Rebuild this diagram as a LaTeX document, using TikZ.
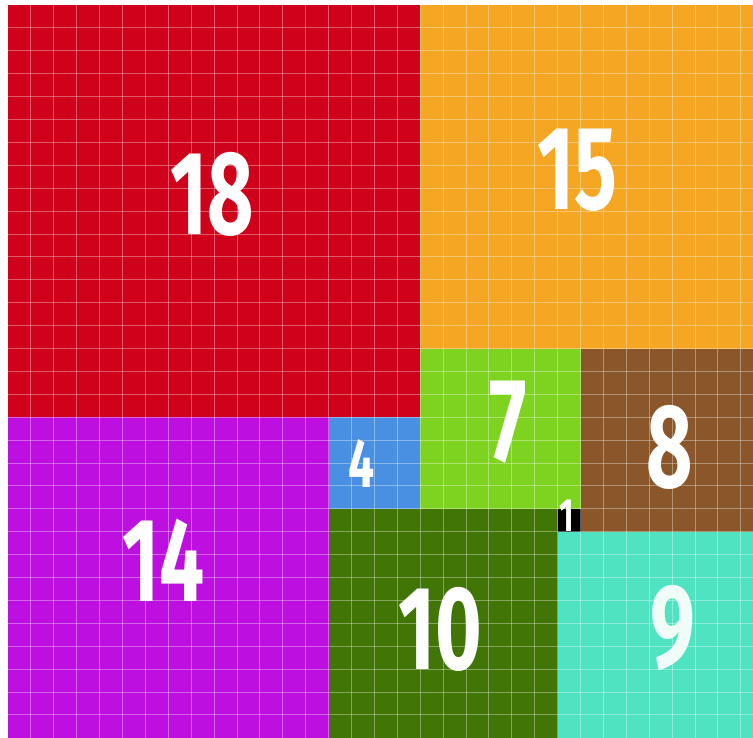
\documentclass[tikz,border=0pt]{standalone}
\usepackage{fontspec}
\setmainfont{Fira Sans}
\definecolor{cred}{RGB}{208,2,27}
\definecolor{corange}{RGB}{245,166,35}
\definecolor{cgreen}{RGB}{126,211,33}
\definecolor{cbrown}{RGB}{139,87,42}
\definecolor{cblue}{RGB}{74,144,226}
\definecolor{cmagenta}{RGB}{189,16,224}
\definecolor{cdkgreen}{RGB}{65,117,5}
\definecolor{cteal}{RGB}{80,227,194}
\definecolor{cmint}{RGB}{240,252,248}
\tikzset{
  sq/.style={inner sep=0pt, outer sep=0pt, draw=none, anchor=north west},
  big/.style={inner sep=0pt, text=white, font=\bfseries\fontsize{74}{74}\selectfont, xscale=0.67},
  mid/.style={inner sep=0pt, text=white, font=\bfseries\fontsize{43}{43}\selectfont, xscale=0.67},
  small/.style={inner sep=0pt, text=white, font=\bfseries\fontsize{29}{29}\selectfont, xscale=0.67},
  gridline/.style={white, opacity=0.35, line width=0.6pt}
}
\begin{document}
\begin{tikzpicture}[x=0.5cm,y=-0.5cm]
\useasboundingbox (-0.349,-0.218) rectangle (32.533,31.965);
\fill[white] (-0.349,-0.218) rectangle (32.533,31.965);
\begin{scope}
\clip (-0.349,-0.218) rectangle (32.533,31.965);
% squares
\fill[cred]     (0,0)   rectangle (18,18);
\fill[corange]  (18,0)  rectangle (33,15);
\fill[cgreen]   (18,15) rectangle (25,22);
\fill[cbrown]   (25,15) rectangle (33,23);
\fill[cblue]    (14,18) rectangle (18,22);
\fill[cmagenta] (0,18)  rectangle (14,32);
\fill[cdkgreen] (14,22) rectangle (24,32);
\fill[black]    (24,22) rectangle (25,23);
\fill[cteal]    (24,23) rectangle (33,32);
% grid
\foreach \i in {1,...,32} \draw[gridline] (\i,0) -- (\i,32);
\foreach \j in {1,...,31} \draw[gridline] (0,\j) -- (33,\j);
% labels
\node[big] (t18) at (8.91,8.25) {18};
\node[big] (t15) at (24.85,7.21) {15};
\node[big] (t14) at (6.81,24.24) {14};
\node[big] (t10) at (18.86,27.25) {10};
\node[big, text=cmint] (t9) at (29.04,27.2) {9};
\node[big] (t8) at (28.91,19.30) {8};
\node[big] (t7) at (21.83,18.21) {7};
\node[mid] (t4) at (15.46,20.04) {4};
\node[small] (t1) at (24.41,22.31) {1};
\end{scope}
\end{tikzpicture}
\end{document}
